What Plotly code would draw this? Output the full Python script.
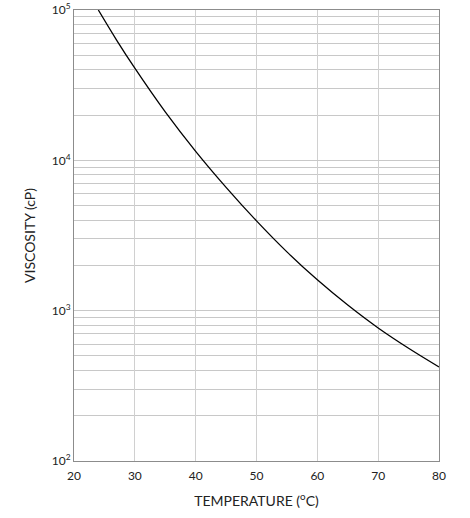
import plotly.graph_objects as go

# Viscosity vs temperature curve
temperature = [24, 27, 30, 35, 40, 45, 50, 55, 60, 65, 70, 75, 80]
viscosity = [100000, 63100, 41000, 21000, 11480, 6610, 3955, 2460, 1603, 1089, 767, 562, 422]

x_ticks = [20, 30, 40, 50, 60, 70, 80]
decades = [100, 1000, 10000, 100000]
decade_labels = ['10<sup>2</sup>', '10<sup>3</sup>', '10<sup>4</sup>', '10<sup>5</sup>']

# minor gridlines at 2..9 x every decade
minor_vals = [d * m for d in decades[:-1] for m in range(2, 10)]

fig = go.Figure()
fig.add_trace(go.Scatter(
    x=temperature,
    y=viscosity,
    mode='lines',
    line=dict(color='black', width=1.3, shape='spline'),
    hovertemplate='%{x} °C<br>%{y} cP<extra></extra>'
))

fig.update_layout(
    width=470,
    height=518,
    margin=dict(l=74, r=31, t=10, b=57),
    paper_bgcolor='white',
    plot_bgcolor='white',
    showlegend=False,
    font=dict(family='Lato', size=12, color='#222222'),
)

fig.update_xaxes(
    range=[20, 80],
    tickvals=x_ticks,
    showgrid=True,
    gridcolor='#d0d0d0',
    gridwidth=1,
    showline=True,
    mirror=True,
    linecolor='#8c8c8c',
    linewidth=1,
    ticks='',
    ticklabelstandoff=4,
    zeroline=False,
    automargin=False,
    title=dict(text='TEMPERATURE (<sup>o</sup>C)', standoff=13),
)

fig.update_yaxes(
    type='log',
    range=[2, 5],
    tickvals=decades,
    ticktext=decade_labels,
    showgrid=True,
    gridcolor='#c8c8c8',
    gridwidth=1,
    minor=dict(tickvals=minor_vals, showgrid=True, gridcolor='#c8c8c8', gridwidth=1, ticks=''),
    showline=True,
    mirror=True,
    linecolor='#8c8c8c',
    linewidth=1,
    ticks='',
    zeroline=False,
    automargin=False,
    title=dict(text='VISCOSITY (cP)', standoff=12),
)

# page body has a default 8px margin; remove it so the figure sits at the corner
fig.write_html('out.html', config={'displayModeBar': False},
               post_script="document.body.style.margin='0';")
